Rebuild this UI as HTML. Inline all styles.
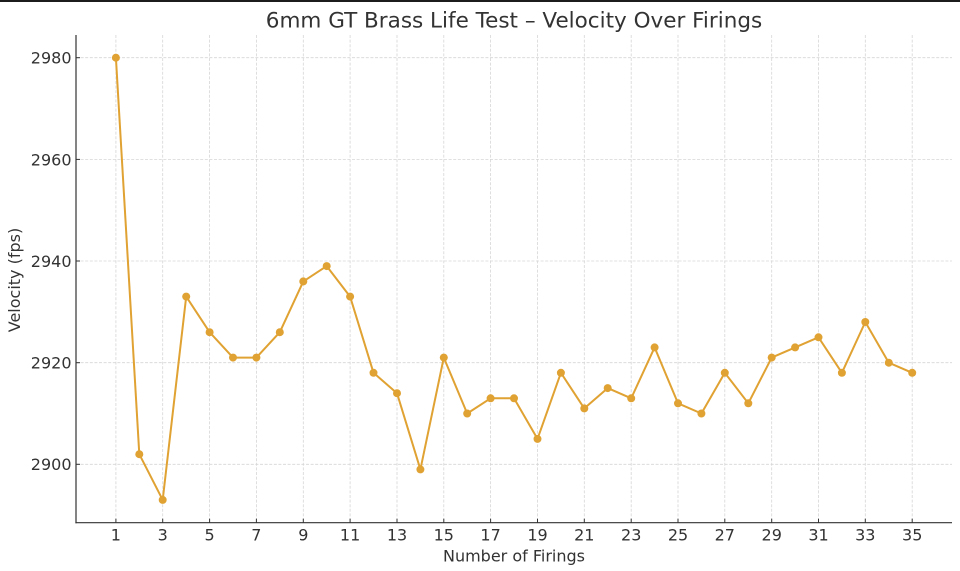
<!DOCTYPE html>
<html>
<head>
<meta charset="utf-8">
<style>
  html, body { margin: 0; padding: 0; background: #ffffff; }
  svg { display: block; }
  text { font-family: "DejaVu Sans", "Liberation Sans", sans-serif; fill: #333333; }
</style>
</head>
<body>
<svg width="960" height="571" viewBox="0 0 960 571" xmlns="http://www.w3.org/2000/svg">
  <rect x="0" y="0" width="960" height="571" fill="#ffffff"/>
  <rect x="0" y="0" width="960" height="2" fill="#1c1c1c"/>

  <!-- grid -->
  <g stroke="#d6d6d6" stroke-width="0.8" stroke-dasharray="3,1.6" fill="none">
    <line x1="76" y1="57.7" x2="952" y2="57.7"/>
    <line x1="76" y1="159.4" x2="952" y2="159.4"/>
    <line x1="76" y1="261.0" x2="952" y2="261.0"/>
    <line x1="76" y1="362.7" x2="952" y2="362.7"/>
    <line x1="76" y1="464.3" x2="952" y2="464.3"/>
    <line x1="115.9" y1="35" x2="115.9" y2="522.7"/>
    <line x1="162.7" y1="35" x2="162.7" y2="522.7"/>
    <line x1="209.6" y1="35" x2="209.6" y2="522.7"/>
    <line x1="256.4" y1="35" x2="256.4" y2="522.7"/>
    <line x1="303.3" y1="35" x2="303.3" y2="522.7"/>
    <line x1="350.1" y1="35" x2="350.1" y2="522.7"/>
    <line x1="397.0" y1="35" x2="397.0" y2="522.7"/>
    <line x1="443.8" y1="35" x2="443.8" y2="522.7"/>
    <line x1="490.6" y1="35" x2="490.6" y2="522.7"/>
    <line x1="537.5" y1="35" x2="537.5" y2="522.7"/>
    <line x1="584.3" y1="35" x2="584.3" y2="522.7"/>
    <line x1="631.2" y1="35" x2="631.2" y2="522.7"/>
    <line x1="678.0" y1="35" x2="678.0" y2="522.7"/>
    <line x1="724.8" y1="35" x2="724.8" y2="522.7"/>
    <line x1="771.7" y1="35" x2="771.7" y2="522.7"/>
    <line x1="818.5" y1="35" x2="818.5" y2="522.7"/>
    <line x1="865.3" y1="35" x2="865.3" y2="522.7"/>
    <line x1="912.2" y1="35" x2="912.2" y2="522.7"/>
  </g>

  <!-- series -->
  <polyline fill="none" stroke="#e0a232" stroke-width="2" stroke-linejoin="round"
    points="115.9,57.7 139.3,454.2 162.7,499.9 186.2,296.6 209.6,332.2 233.0,357.6 256.4,357.6 279.8,332.2 303.3,281.4 326.7,266.1 350.1,296.6 373.5,372.8 397.0,393.2 420.4,469.4 443.8,357.6 467.2,413.5 490.6,398.3 514.0,398.3 537.5,438.9 560.9,372.8 584.3,408.4 607.7,388.1 631.2,398.3 654.6,347.4 678.0,403.3 701.4,413.5 724.8,372.8 748.3,403.3 771.7,357.6 795.1,347.4 818.5,337.3 841.9,372.8 865.3,322.0 888.8,362.7 912.2,372.8"/>
  <g fill="#e0a232">
    <circle cx="115.9" cy="57.7" r="4"/>
    <circle cx="139.3" cy="454.2" r="4"/>
    <circle cx="162.7" cy="499.9" r="4"/>
    <circle cx="186.2" cy="296.6" r="4"/>
    <circle cx="209.6" cy="332.2" r="4"/>
    <circle cx="233.0" cy="357.6" r="4"/>
    <circle cx="256.4" cy="357.6" r="4"/>
    <circle cx="279.8" cy="332.2" r="4"/>
    <circle cx="303.3" cy="281.4" r="4"/>
    <circle cx="326.7" cy="266.1" r="4"/>
    <circle cx="350.1" cy="296.6" r="4"/>
    <circle cx="373.5" cy="372.8" r="4"/>
    <circle cx="397.0" cy="393.2" r="4"/>
    <circle cx="420.4" cy="469.4" r="4"/>
    <circle cx="443.8" cy="357.6" r="4"/>
    <circle cx="467.2" cy="413.5" r="4"/>
    <circle cx="490.6" cy="398.3" r="4"/>
    <circle cx="514.0" cy="398.3" r="4"/>
    <circle cx="537.5" cy="438.9" r="4"/>
    <circle cx="560.9" cy="372.8" r="4"/>
    <circle cx="584.3" cy="408.4" r="4"/>
    <circle cx="607.7" cy="388.1" r="4"/>
    <circle cx="631.2" cy="398.3" r="4"/>
    <circle cx="654.6" cy="347.4" r="4"/>
    <circle cx="678.0" cy="403.3" r="4"/>
    <circle cx="701.4" cy="413.5" r="4"/>
    <circle cx="724.8" cy="372.8" r="4"/>
    <circle cx="748.3" cy="403.3" r="4"/>
    <circle cx="771.7" cy="357.6" r="4"/>
    <circle cx="795.1" cy="347.4" r="4"/>
    <circle cx="818.5" cy="337.3" r="4"/>
    <circle cx="841.9" cy="372.8" r="4"/>
    <circle cx="865.3" cy="322.0" r="4"/>
    <circle cx="888.8" cy="362.7" r="4"/>
    <circle cx="912.2" cy="372.8" r="4"/>
  </g>

  <!-- spines -->
  <g stroke="#333333" stroke-width="1.2" fill="none">
    <line x1="76" y1="35" x2="76" y2="523.3"/>
    <line x1="75.4" y1="522.7" x2="952" y2="522.7"/>
  </g>
  <!-- ticks (inward) -->
  <g stroke="#333333" stroke-width="1" fill="none">
    <line x1="76" y1="57.7" x2="80" y2="57.7"/>
    <line x1="76" y1="159.4" x2="80" y2="159.4"/>
    <line x1="76" y1="261.0" x2="80" y2="261.0"/>
    <line x1="76" y1="362.7" x2="80" y2="362.7"/>
    <line x1="76" y1="464.3" x2="80" y2="464.3"/>
    <line x1="115.9" y1="522.7" x2="115.9" y2="518.7"/>
    <line x1="162.7" y1="522.7" x2="162.7" y2="518.7"/>
    <line x1="209.6" y1="522.7" x2="209.6" y2="518.7"/>
    <line x1="256.4" y1="522.7" x2="256.4" y2="518.7"/>
    <line x1="303.3" y1="522.7" x2="303.3" y2="518.7"/>
    <line x1="350.1" y1="522.7" x2="350.1" y2="518.7"/>
    <line x1="397.0" y1="522.7" x2="397.0" y2="518.7"/>
    <line x1="443.8" y1="522.7" x2="443.8" y2="518.7"/>
    <line x1="490.6" y1="522.7" x2="490.6" y2="518.7"/>
    <line x1="537.5" y1="522.7" x2="537.5" y2="518.7"/>
    <line x1="584.3" y1="522.7" x2="584.3" y2="518.7"/>
    <line x1="631.2" y1="522.7" x2="631.2" y2="518.7"/>
    <line x1="678.0" y1="522.7" x2="678.0" y2="518.7"/>
    <line x1="724.8" y1="522.7" x2="724.8" y2="518.7"/>
    <line x1="771.7" y1="522.7" x2="771.7" y2="518.7"/>
    <line x1="818.5" y1="522.7" x2="818.5" y2="518.7"/>
    <line x1="865.3" y1="522.7" x2="865.3" y2="518.7"/>
    <line x1="912.2" y1="522.7" x2="912.2" y2="518.7"/>
  </g>

  <!-- y tick labels -->
  <g font-size="16" text-anchor="end">
    <text x="71.5" y="63.6">2980</text>
    <text x="71.5" y="165.3">2960</text>
    <text x="71.5" y="266.9">2940</text>
    <text x="71.5" y="368.6">2920</text>
    <text x="71.5" y="470.2">2900</text>
  </g>
  <!-- x tick labels -->
  <g font-size="16" text-anchor="middle">
    <text x="115.9" y="540.5">1</text>
    <text x="162.7" y="540.5">3</text>
    <text x="209.6" y="540.5">5</text>
    <text x="256.4" y="540.5">7</text>
    <text x="303.3" y="540.5">9</text>
    <text x="350.1" y="540.5">11</text>
    <text x="397.0" y="540.5">13</text>
    <text x="443.8" y="540.5">15</text>
    <text x="490.6" y="540.5">17</text>
    <text x="537.5" y="540.5">19</text>
    <text x="584.3" y="540.5">21</text>
    <text x="631.2" y="540.5">23</text>
    <text x="678.0" y="540.5">25</text>
    <text x="724.8" y="540.5">27</text>
    <text x="771.7" y="540.5">29</text>
    <text x="818.5" y="540.5">31</text>
    <text x="865.3" y="540.5">33</text>
    <text x="912.2" y="540.5">35</text>
  </g>

  <!-- axis labels and title -->
  <text x="514" y="561.5" font-size="16" text-anchor="middle">Number of Firings</text>
  <text x="0" y="0" font-size="16" text-anchor="middle" transform="translate(20.2,280) rotate(-90)">Velocity (fps)</text>
  <text x="514" y="27.7" font-size="21.5" text-anchor="middle">6mm GT Brass Life Test – Velocity Over Firings</text>
</svg>
</body>
</html>
